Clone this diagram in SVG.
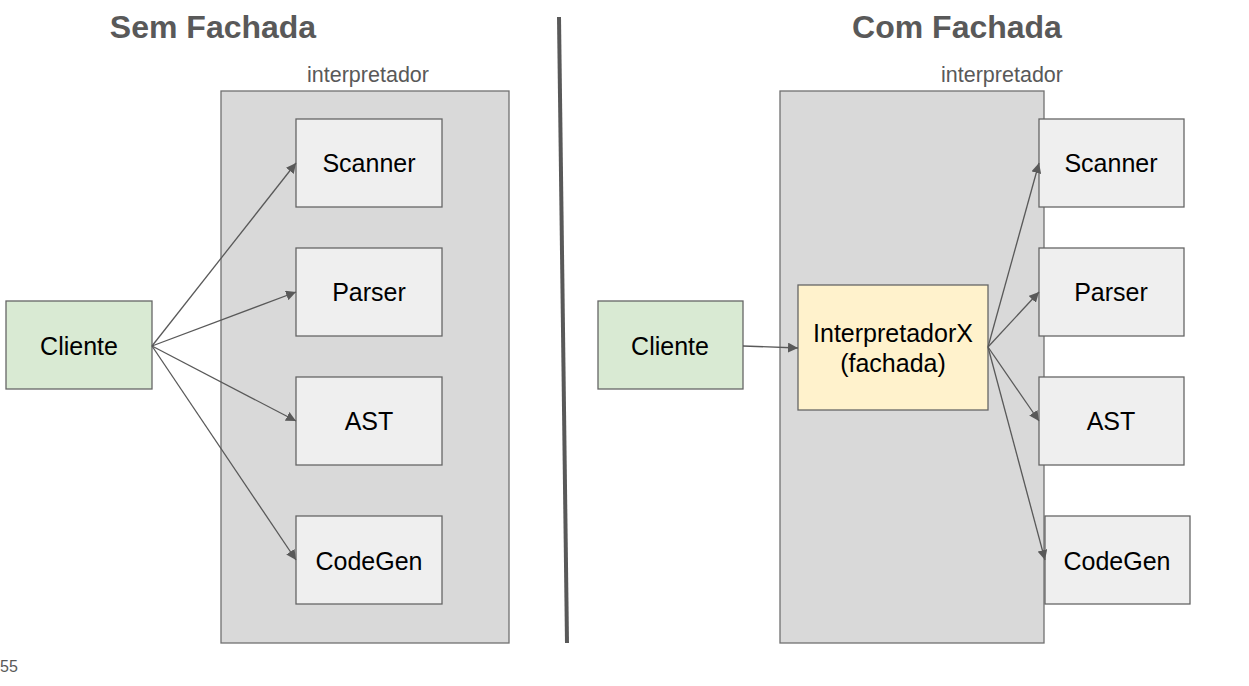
<svg xmlns="http://www.w3.org/2000/svg" width="1249" height="686" viewBox="0 0 1249 686">
<defs>
<marker id="ah" viewBox="0 0 10 10" refX="10" refY="5" markerWidth="10" markerHeight="10" markerUnits="userSpaceOnUse" orient="auto">
<path d="M0,0 L10,5 L0,10 z" fill="#595959"/>
</marker>
</defs>
<style>
text{font-family:"Liberation Sans",Arial,sans-serif}
.title{font-size:32px;font-weight:bold;fill:#595959;text-anchor:middle}
.lbl{font-size:21.5px;fill:#595959;text-anchor:middle}
.nt{font-size:25px;fill:#000;text-anchor:middle}
.cont{fill:#d9d9d9;stroke:#707070;stroke-width:1.3}
.box{fill:#efefef;stroke:#666;stroke-width:1.3}
.cli{fill:#d9ead3;stroke:#666;stroke-width:1.3}
.fac{fill:#fff2cc;stroke:#666;stroke-width:1.3}
.c line{stroke:#595959;stroke-width:1.3;marker-end:url(#ah)}
</style>
<rect width="1249" height="686" fill="#fff"/>
<text class="title" x="213" y="38">Sem Fachada</text>
<text class="title" x="957" y="38">Com Fachada</text>
<line x1="559" y1="17" x2="567" y2="643" stroke="#595959" stroke-width="4"/>
<text x="0" y="672" font-size="16" fill="#595959">55</text>

<g id="left-container"><rect class="cont" x="221" y="91" width="288" height="552"/><text class="lbl" x="368" y="82">interpretador</text></g>
<g id="right-container"><rect class="cont" x="780" y="91" width="264" height="552"/><text class="lbl" x="1002" y="82">interpretador</text></g>

<g id="cliente-l"><rect class="cli" x="6" y="301" width="146" height="88"/><text class="nt" x="79" y="355">Cliente</text></g>
<g id="scanner-l"><rect class="box" x="296" y="119" width="146" height="88"/><text class="nt" x="369" y="172">Scanner</text></g>
<g id="parser-l"><rect class="box" x="296" y="248" width="146" height="88"/><text class="nt" x="369" y="301">Parser</text></g>
<g id="ast-l"><rect class="box" x="296" y="377" width="146" height="88"/><text class="nt" x="369" y="430">AST</text></g>
<g id="codegen-l"><rect class="box" x="296" y="516" width="146" height="88"/><text class="nt" x="369" y="570">CodeGen</text></g>

<g id="cliente-r"><rect class="cli" x="598" y="301" width="145" height="88"/><text class="nt" x="670" y="355">Cliente</text></g>
<g id="fachada"><rect class="fac" x="798" y="285" width="190" height="125"/><text class="nt" x="893" y="342">InterpretadorX</text><text class="nt" x="893" y="372">(fachada)</text></g>
<g id="scanner-r"><rect class="box" x="1039" y="119" width="145" height="88"/><text class="nt" x="1111" y="172">Scanner</text></g>
<g id="parser-r"><rect class="box" x="1039" y="248" width="145" height="88"/><text class="nt" x="1111" y="301">Parser</text></g>
<g id="ast-r"><rect class="box" x="1039" y="377" width="145" height="88"/><text class="nt" x="1111" y="430">AST</text></g>
<g id="codegen-r"><rect class="box" x="1045" y="516" width="145" height="88"/><text class="nt" x="1117" y="570">CodeGen</text></g>

<g id="connectors" class="c">
<line x1="152" y1="346" x2="296" y2="163"/>
<line x1="152" y1="346" x2="296" y2="292"/>
<line x1="152" y1="346" x2="296" y2="421"/>
<line x1="152" y1="346" x2="296" y2="560"/>
<line x1="743" y1="346" x2="798" y2="348"/>
<line x1="988" y1="347" x2="1039" y2="163"/>
<line x1="988" y1="347" x2="1039" y2="292"/>
<line x1="988" y1="347" x2="1039" y2="421"/>
<line x1="988" y1="347" x2="1045" y2="560"/>
</g>
</svg>
